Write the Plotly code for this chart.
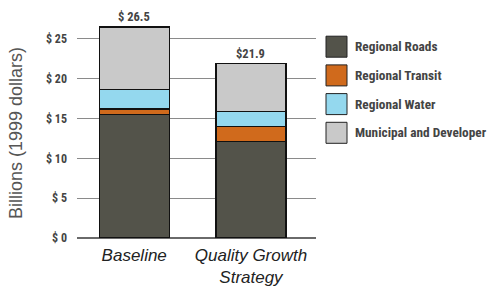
import plotly.graph_objects as go

categories = ["Baseline", "Quality Growth Strategy"]
category_labels = ["<i>Baseline</i>", "<i>Quality Growth<br>Strategy</i>"]
series_names = ["Regional Roads", "Regional Transit", "Regional Water", "Municipal and Developer"]
regional_roads = [15.5, 12.1]
regional_transit = [0.7, 1.9]
regional_water = [2.4, 1.9]
municipal_developer = [7.9, 6.0]
totals = [26.5, 21.9]
total_labels = ["$ 26.5", "$21.9"]
y_ticks = [0, 5, 10, 15, 20, 25]
y_tick_labels = ["$ 0", "$ 5", "$ 10", "$ 15", "$ 20", "$ 25"]

colors = ["#53534a", "#d06a1c", "#94d8ee", "#c9c9c9"]
COND = "Roboto Condensed, Roboto, sans-serif"
TXT = "#444444"

W, H = 493, 288
L, R, T, B = 77, 177, 15, 50
PW, PH = W - L - R, H - T - B

def px_x(px):
    return (px - L) / PW

def px_y(py):
    return (H - B - py) / PH

fig = go.Figure()
series = [regional_roads, regional_transit, regional_water, municipal_developer]
xs = [0, 1]
for name, vals, col in zip(series_names, series, colors):
    fig.add_trace(go.Bar(
        x=xs, y=vals, name=name, width=0.6,
        marker=dict(color=col, line=dict(color="#111111", width=1.2)),
        showlegend=False, hoverinfo="name+y",
    ))

for x, tot, lab in zip(xs, totals, total_labels):
    fig.add_annotation(x=x, y=tot, text="<b>" + lab + "</b>", showarrow=False,
                       yanchor="bottom", yshift=1,
                       font=dict(family=COND, size=12.5, color=TXT))

# manual legend
row0, step = 46.7, 28.7
for i, (name, col) in enumerate(zip(series_names, colors)):
    cy = row0 + i * step
    fig.add_shape(type="rect", xref="paper", yref="paper",
                  x0=px_x(326), x1=px_x(347), y0=px_y(cy + 10.5), y1=px_y(cy - 10.5),
                  fillcolor=col, line=dict(color="#222222", width=1))
    fig.add_annotation(xref="paper", yref="paper", x=px_x(353), y=px_y(cy),
                       text="<b>" + name + "</b>", showarrow=False,
                       xanchor="left", yanchor="middle",
                       font=dict(family=COND, size=13.3, color=TXT))

fig.add_annotation(xref="paper", yref="paper", x=px_x(16), y=px_y(133),
                   text="Billions (1999 dollars)", textangle=-90, showarrow=False,
                   xanchor="center", yanchor="middle",
                   font=dict(family="Liberation Sans, Arial, sans-serif", size=18, color="#555555"))

fig.update_layout(
    width=W, height=H, barmode="stack",
    margin=dict(l=L, r=R, t=T, b=B, pad=0, autoexpand=False),
    paper_bgcolor="white", plot_bgcolor="white",
    bargap=0.4,
)
fig.update_xaxes(
    tickmode="array", tickvals=xs, ticktext=category_labels,
    range=[-0.49, 1.557], showgrid=False, zeroline=False, showline=False,
    ticks="", ticklabelstandoff=5, automargin=False,
    tickfont=dict(family="Liberation Sans, Arial, sans-serif", size=17, color="#222222"),
)
fig.update_yaxes(
    range=[0, 28], tickmode="array", tickvals=y_ticks,
    ticktext=["<b>" + t + "</b>" for t in y_tick_labels],
    showgrid=True, gridcolor="#8a8a8a", gridwidth=1.4,
    zeroline=True, zerolinecolor="#6a6a6a", zerolinewidth=2,
    showline=False, ticks="", ticklabelstandoff=9, automargin=False,
    tickfont=dict(family=COND, size=12, color=TXT),
)

fig.write_html("out.html", config={"displayModeBar": False},
               post_script="document.body.style.margin='0';document.body.style.padding='0';")
